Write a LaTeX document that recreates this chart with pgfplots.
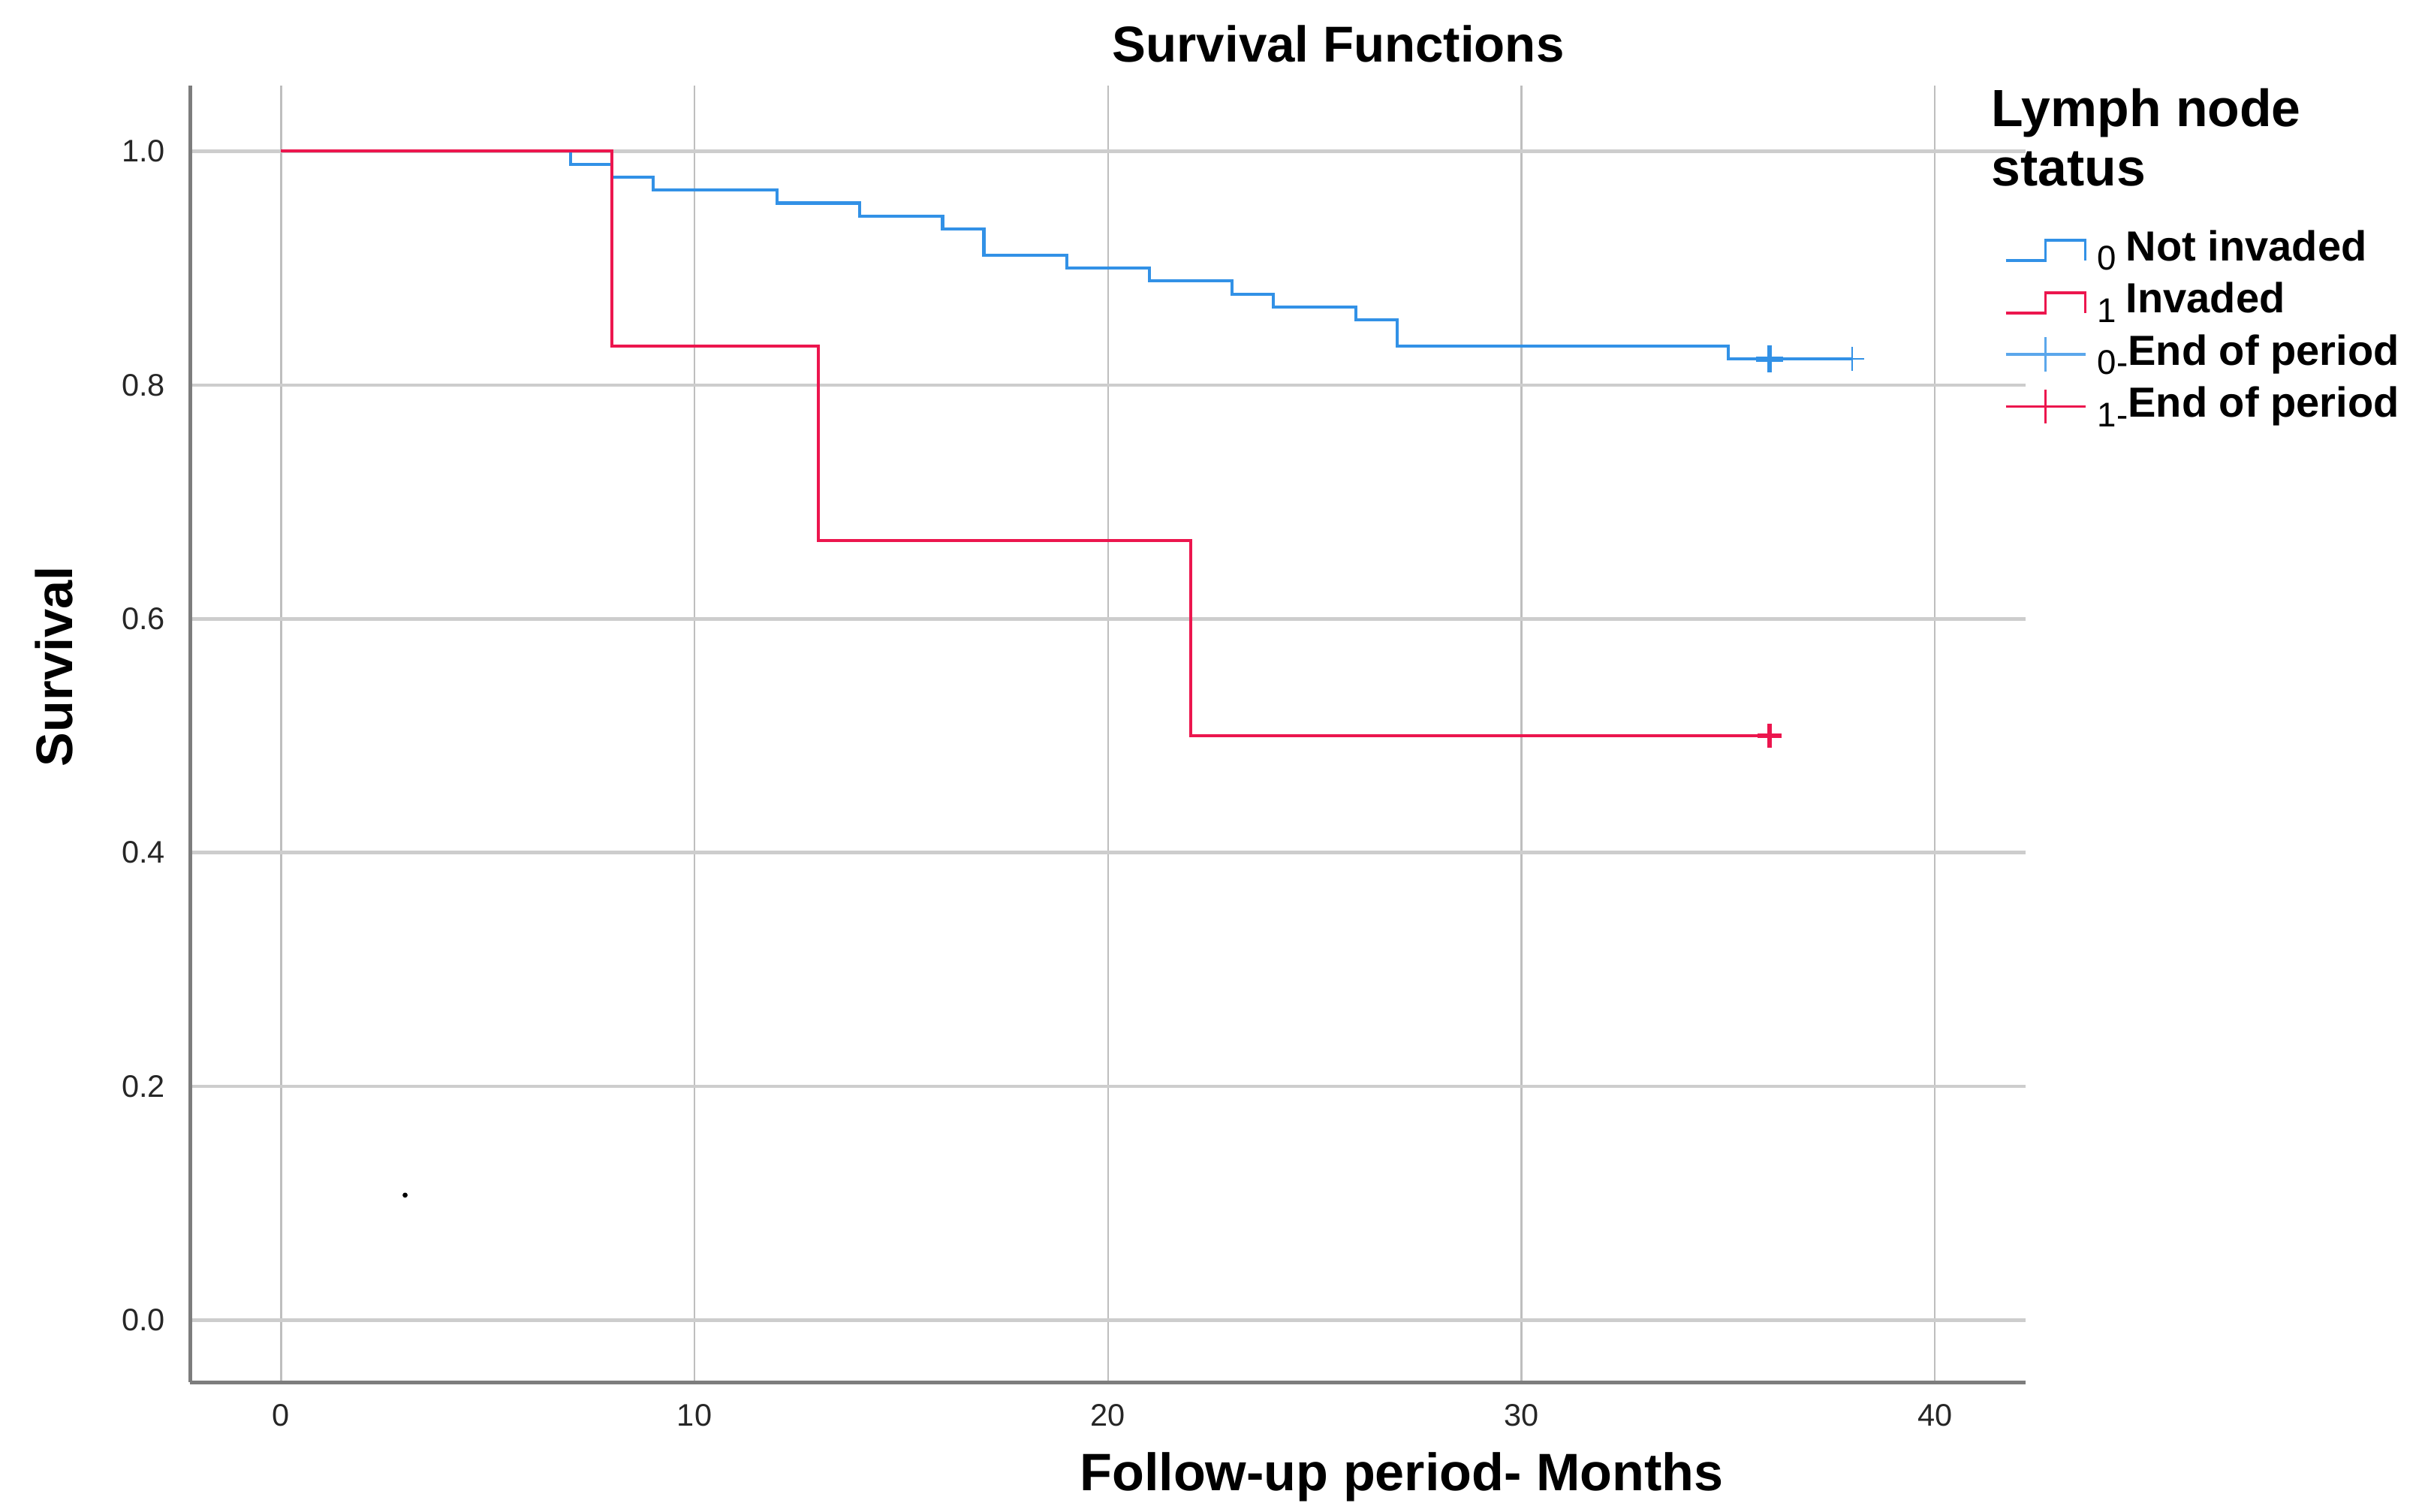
\documentclass[border=0pt]{standalone}
\usepackage{fontspec}
\setmainfont{Liberation Sans}
\usepackage{pgfplots}
\pgfplotsset{compat=1.18}
\definecolor{kmblue}{RGB}{50,145,230}
\definecolor{kmred}{RGB}{236,22,78}
\definecolor{gridv}{RGB}{190,190,190}
\definecolor{gridh}{RGB}{205,205,205}
\definecolor{spine}{RGB}{125,125,125}

\begin{document}
\begin{tikzpicture}
\path[use as bounding box] (-61pt,-41.5pt) rectangle (719pt,443.5pt);
\begin{axis}[
  at={(0pt,0pt)}, anchor=south west,
  scale only axis, width=589pt, height=416pt,
  xmin=-2.2, xmax=42.2, ymin=-0.053, ymax=1.056,
  clip=false,
  axis x line*=bottom, axis y line*=left,
  axis line style={-, draw=spine, line width=1.2pt},
  xtick={0,10,20,30,40},
  ytick={0,0.2,0.4,0.6,0.8,1.0},
  yticklabels={0.0,0.2,0.4,0.6,0.8,1.0},
  major tick length=0pt,
  grid=major,
  x grid style={draw=gridv, line width=0.6pt},
  y grid style={draw=gridh, line width=1.1pt},
  /pgf/number format/assume math mode=true,
  ticklabel style={font=\fontsize{10}{11}\selectfont, text=black!85},
  xticklabel style={yshift=-3.5pt},
  yticklabel style={xshift=-4.5pt},
  title={Survival Functions},
  every axis title shift=0pt,
  title style={at={(0.6255,1.0325)}, anchor=center,
    font=\fontsize{16.2}{18}\selectfont\bfseries},
  xlabel={Follow-up period- Months},
  xlabel style={at={(0.66,-0.0733)}, anchor=center, font=\fontsize{16.9}{19}\selectfont\bfseries},
  ylabel={Survival},
  ylabel style={at={(-0.074,0.552)}, anchor=center, font=\fontsize{16.5}{19}\selectfont\bfseries},
  legend style={at={(0.988,0.8895)}, anchor=north west, draw=none, fill=none,
    inner sep=0pt, row sep=3.75pt,
    nodes={inner sep=0pt, text height=10pt, text depth=3pt,
      font=\fontsize{13.5}{16}\selectfont\bfseries},
    /tikz/every odd column/.append style={column sep=3.5pt}},
  legend cell align=left,
]

% 0 = not invaded (n = 90)
\addplot[const plot, color=kmblue, line width=1pt, no marks,
  legend image code/.code={\draw[kmblue, line width=0.9pt]
    (0pt,-3.5pt) -- (12.7pt,-3.5pt) -- (12.7pt,3pt) -- (25.5pt,3pt) -- (25.5pt,-3.5pt);}]
coordinates {
  (0,1.0) (7,0.9889) (8,0.9778) (9,0.9667) (12,0.9556) (14,0.9444)
  (16,0.9333) (17,0.9111) (19,0.9000) (21,0.8889) (23,0.8778)
  (24,0.8667) (26,0.8556) (27,0.8333) (35,0.8222) (38,0.8222)
};
\addlegendentry{\raisebox{-3pt}{\mdseries\fontsize{11}{12}\selectfont 0}\hspace{3pt}Not invaded}

% 1 = invaded (n = 6)
\addplot[const plot, color=kmred, line width=1pt, no marks,
  legend image code/.code={\draw[kmred, line width=0.9pt]
    (0pt,-3.5pt) -- (12.7pt,-3.5pt) -- (12.7pt,3pt) -- (25.5pt,3pt) -- (25.5pt,-3.5pt);}]
coordinates {
  (0,1.0) (8,0.8333) (13,0.6667) (22,0.5) (36,0.5)
};
\addlegendentry{\raisebox{-3pt}{\mdseries\fontsize{11}{12}\selectfont 1}\hspace{3pt}Invaded}

% censored
\addplot[only marks, mark=+, mark size=4.3pt, color=kmblue,
  mark options={line width=1.6pt},
  legend image code/.code={\draw[kmblue!80, line width=0.9pt] (0pt,0pt) -- (25.5pt,0pt);
    \draw[kmblue!80, line width=0.9pt] (12.7pt,-5.5pt) -- (12.7pt,5.5pt);}]
coordinates {(36,0.8222)};
\addlegendentry{\raisebox{-3pt}{\mdseries\fontsize{11}{12}\selectfont 0-}End of period}

\addplot[only marks, mark=+, mark size=3.9pt, color=kmred,
  mark options={line width=1.5pt},
  legend image code/.code={\draw[kmred, line width=0.9pt] (0pt,0pt) -- (25.5pt,0pt);
    \draw[kmred, line width=0.9pt] (12.7pt,-5.5pt) -- (12.7pt,5.5pt);}]
coordinates {(36,0.5)};
\addlegendentry{\raisebox{-3pt}{\mdseries\fontsize{11}{12}\selectfont 1-}End of period}

\addplot[forget plot, only marks, mark=+, mark size=3.9pt, color=kmblue,
  mark options={line width=0.6pt}]
coordinates {(38,0.8222)};

\addplot[forget plot, only marks, mark=*, mark size=0.6pt, color=black]
coordinates {(3,0.107)};

\node[anchor=north west, align=left, inner sep=0pt,
  font=\fontsize{16.8}{19}\selectfont\bfseries]
  at (rel axis cs:0.981,0.9984) {Lymph node\\status};
\end{axis}
\end{tikzpicture}
\end{document}
